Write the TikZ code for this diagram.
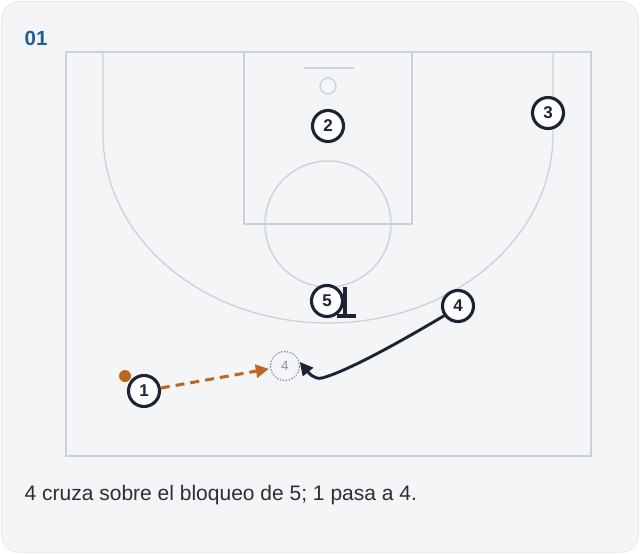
\documentclass[tikz,border=0pt]{standalone}
\usepackage{fontspec}
\setmainfont{Liberation Sans}
\usetikzlibrary{arrows.meta}
\definecolor{cardbg}{HTML}{F3F5F7}
\definecolor{cardedge}{HTML}{E8EBEE}
\definecolor{courtline}{HTML}{C9D2DA}
\definecolor{navy}{HTML}{1A2434}
\definecolor{passor}{HTML}{C0661C}
\definecolor{titleblue}{HTML}{1E5F96}
\definecolor{captxt}{HTML}{2A2F36}
\definecolor{ghostc}{HTML}{8A949F}
\tikzset{
  court/.style={draw=courtline, line width=1.3pt},
  player/.style={circle, draw=navy, line width=3.1pt, fill=white, minimum size=31pt, inner sep=0pt, font=\fontsize{17}{17}\selectfont\bfseries, text=navy},
  ghost/.style={circle, draw=ghostc, line width=1.8pt, dash pattern=on 0.1pt off 2.8pt, line cap=round, fill=cardbg, minimum size=29pt, inner sep=0pt, font=\fontsize{13.5}{13.5}\selectfont, text=ghostc},
  passline/.style={draw=passor, line width=3pt, dash pattern=on 9pt off 6pt, -{Triangle[length=13pt,width=13pt]}},
  cutline/.style={draw=navy, line width=2.9pt, -{Triangle[length=13pt,width=13pt]}},
  screenline/.style={draw=navy, line width=3.4pt},
}
\begin{document}
\begin{tikzpicture}[x=1pt,y=-1pt]
\useasboundingbox (0,0) rectangle (640,554);
\fill[white] (0,0) rectangle (640,554);
\filldraw[fill=cardbg, draw=cardedge, line width=0.8pt, rounded corners=18pt] (1.5,1.5) rectangle (638.5,552.5);
% title
\node[anchor=west, text=titleblue, font=\fontsize{20.5}{20.5}\selectfont\bfseries, inner sep=0pt] (title) at (24.5,38) {01};
% court
\draw[court] (66,52) rectangle (591,456);
\draw[court] (244,52) rectangle (412,224);
\draw[court] (328,224) circle (63);
\draw[court] (304,68) -- (354,68);
\draw[court] (328,86) circle (8);
\draw[court] (103,52) -- (103,134) arc[start angle=180, end angle=0, x radius=225, y radius=189] -- (553,52);
% players
\node[player] (p2) at (328,126) {2};
\node[player] (p3) at (548,113) {3};
\node[player] (p5) at (327,301) {5};
\node[player] (p4) at (458,306) {4};
\node[ghost] (g4) at (285,366) {4};
% ball
\node[circle, fill=passor, minimum size=12pt, inner sep=0pt] (ball) at (125,376) {};
\node[player] (p1) at (144,391) {1};
% screen
\draw[screenline] (345,287) -- (345,316);
\draw[screenline] (337,316) -- (356,316);
% pass
\draw[passline, shorten >=1pt] (p1) -- (g4);
% cut
\draw[cutline] (p4.215) .. controls (395,345) and (345,372) .. (322,378) .. controls (314,380) and (308,372) .. (g4.15);
% caption
\node[anchor=west, text=captxt, font=\fontsize{21}{21}\selectfont, inner sep=0pt] (cap) at (24.5,495) {4 cruza sobre el bloqueo de 5; 1 pasa a 4.};
\end{tikzpicture}
\end{document}
